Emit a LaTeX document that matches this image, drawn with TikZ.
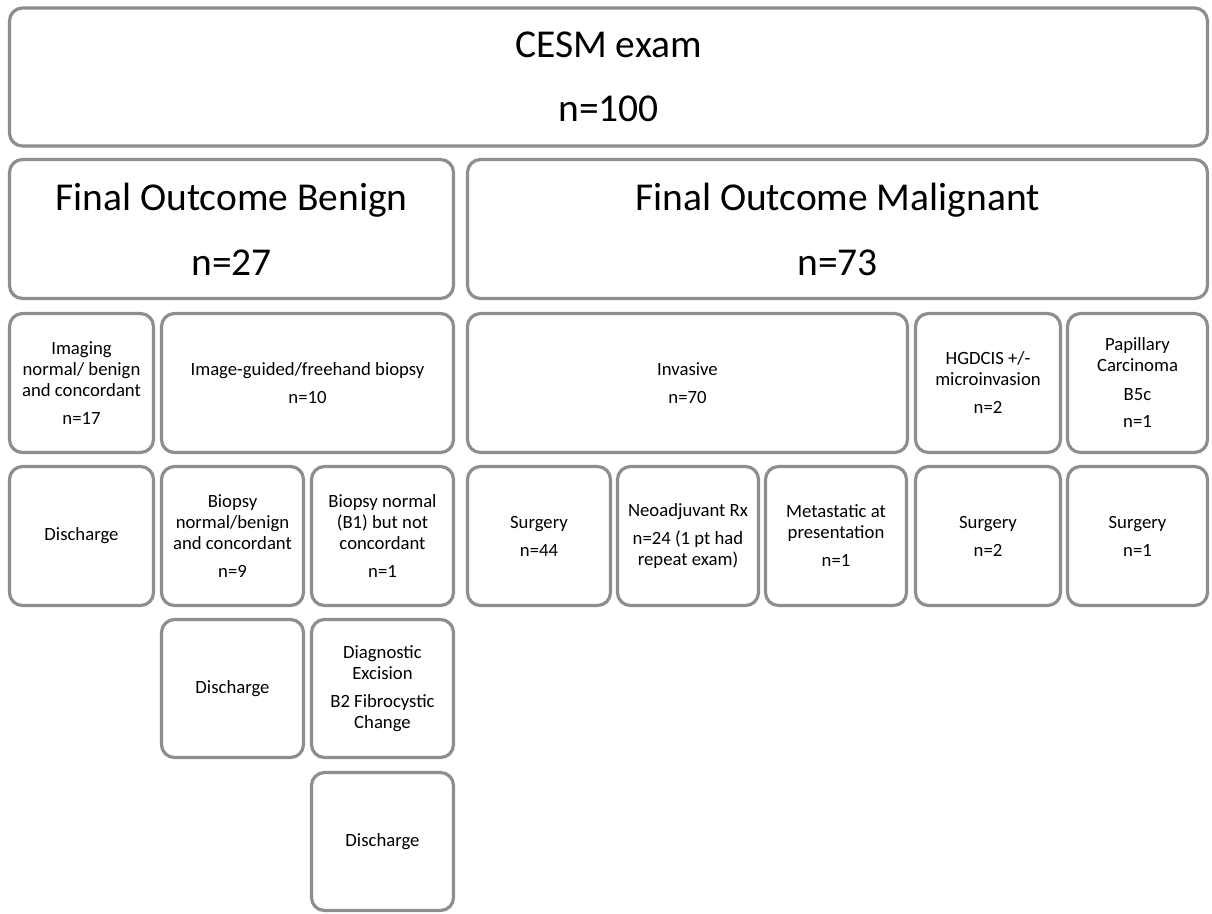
\documentclass[tikz,border=0pt]{standalone}
\usepackage{fontspec}
\setmainfont{Carlito}
\definecolor{boxgray}{RGB}{142,142,142}
\tikzset{
  box/.style={draw=boxgray, line width=3.2pt, rounded corners=13pt, fill=white,
    align=center, inner sep=0pt, text=black},
  small/.style={box, font=\fontsize{18.7}{21}\selectfont},
  big/.style={box, font=\fontsize{39.5}{44}\selectfont},
}
\begin{document}
\begin{tikzpicture}[x=1pt,y=-1pt]
\useasboundingbox (0,0) rectangle (1212,913);
% top
\node[big, minimum width=1198pt, minimum height=138pt] (top) at (608.5,77) {CESM exam\\[20pt]n=100};
% row 2
\node[big, minimum width=444pt, minimum height=139pt] (benign) at (231.5,229) {Final Outcome Benign\\[21pt]n=27};
\node[big, minimum width=740pt, minimum height=139pt] (malig) at (837.5,229) {Final Outcome Malignant\\[21pt]n=73};
% row 3
\node[small, minimum width=144pt, minimum height=139pt] (imaging) at (81.5,383) {Imaging\\normal/ benign\\and concordant\\[7pt]n=17};
\node[small, minimum width=292pt, minimum height=139pt] (guided) at (307.5,383) {Image-guided/freehand biopsy\\[7pt]n=10};
\node[small, minimum width=440pt, minimum height=139pt] (invasive) at (687.5,383) {Invasive\\[7pt]n=70};
\node[small, minimum width=145pt, minimum height=139pt] (hgdcis) at (988,383) {HGDCIS +/-\\microinvasion\\[7pt]n=2};
\node[small, minimum width=140pt, minimum height=139pt] (papillary) at (1137.5,383) {Papillary\\Carcinoma\\[7pt]B5c\\[7pt]n=1};
% row 4
\node[small, minimum width=144pt, minimum height=139pt] (dis1) at (81.5,536) {Discharge};
\node[small, minimum width=142pt, minimum height=139pt] (bnorm) at (232.5,536) {Biopsy\\normal/benign\\and concordant\\[7pt]n=9};
\node[small, minimum width=142pt, minimum height=139pt] (bone) at (382.5,536) {Biopsy normal\\(B1) but not\\concordant\\[7pt]n=1};
\node[small, minimum width=143pt, minimum height=139pt] (surg1) at (539,536) {Surgery\\[7pt]n=44};
\node[small, minimum width=141pt, minimum height=139pt] (neo) at (688,536) {Neoadjuvant Rx\\[7pt]n=24 (1 pt had\\repeat exam)};
\node[small, minimum width=141pt, minimum height=139pt] (meta) at (836,536) {Metastatic at\\presentation\\[7pt]n=1};
\node[small, minimum width=145pt, minimum height=139pt] (surg2) at (988,536) {Surgery\\[7pt]n=2};
\node[small, minimum width=140pt, minimum height=139pt] (surg3) at (1137.5,536) {Surgery\\[7pt]n=1};
% row 5
\node[small, minimum width=142pt, minimum height=138pt] (dis2) at (232.5,688.5) {Discharge};
\node[small, minimum width=142pt, minimum height=138pt] (diag) at (382.5,688.5) {Diagnostic\\Excision\\[7pt]B2 Fibrocystic\\Change};
% row 6
\node[small, minimum width=142pt, minimum height=138pt] (dis3) at (382.5,841.5) {Discharge};
\end{tikzpicture}
\end{document}
